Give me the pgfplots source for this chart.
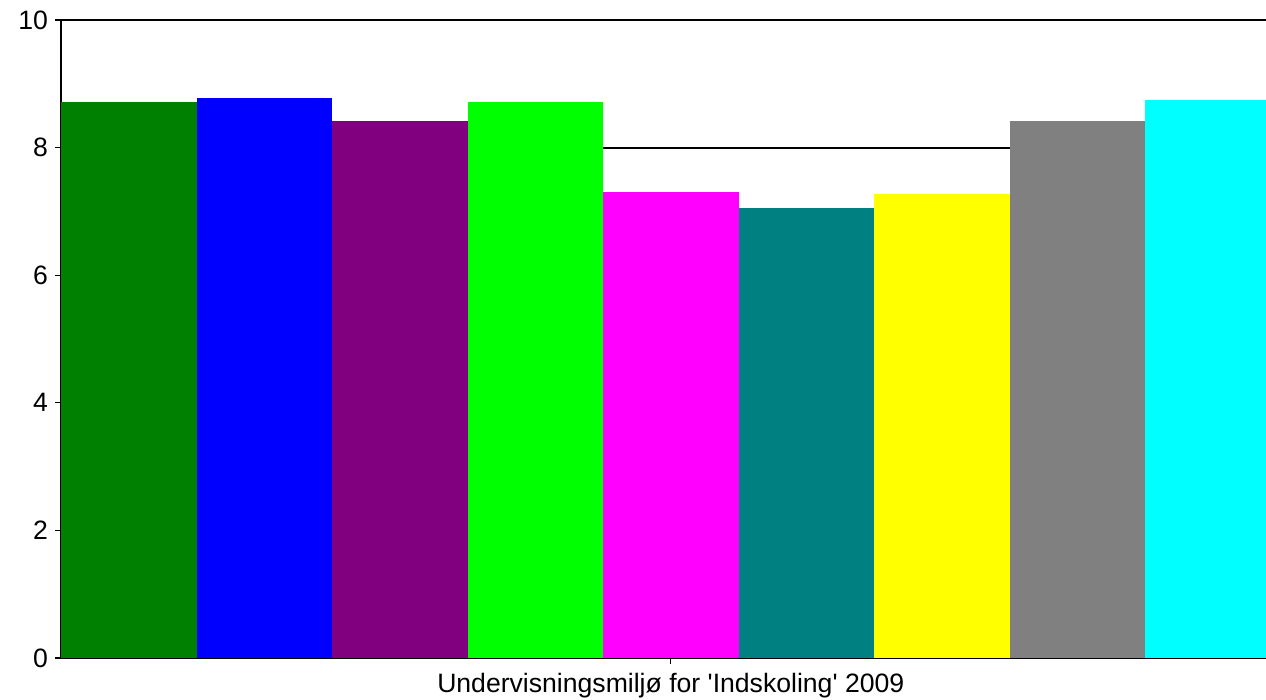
\documentclass[border=0pt]{standalone}
\usepackage{pgfplots}
\pgfplotsset{compat=1.18}
\usepackage{fontspec}
\setmainfont{Liberation Sans}
\definecolor{cGreen}{RGB}{0,128,0}
\definecolor{cBlue}{RGB}{0,0,255}
\definecolor{cPurple}{RGB}{128,0,128}
\definecolor{cLime}{RGB}{0,255,0}
\definecolor{cMagenta}{RGB}{255,0,255}
\definecolor{cTeal}{RGB}{0,128,128}
\definecolor{cYellow}{RGB}{255,255,0}
\definecolor{cGray}{RGB}{128,128,128}
\definecolor{cCyan}{RGB}{0,255,255}
\begin{document}
\begin{tikzpicture}
\begin{axis}[
  name=ax,
  scale only axis,
  width=602.5pt, height=319pt,
  xmin=0, xmax=8.893,
  ymin=0, ymax=10,
  axis x line*=bottom,
  axis y line*=left,
  axis line style={line width=1pt, -},
  ytick={0,2,4,6,8,10},
  xtick={4.5},
  xticklabels={Undervisningsmiljø for \textquotesingle Indskoling\textquotesingle{} 2009},
  tick align=outside,
  major tick length=3pt,
  tick style={black, line width=0.6pt},
  ymajorgrids,
  grid style={black, line width=1pt},
  tick label style={font=\fontsize{13.3}{15}\selectfont},
  /pgf/number format/assume math mode=true,
  xticklabel style={yshift=-1pt},
  ybar, bar width=1, bar shift=0pt,
  clip=true,
]
\addplot[fill=cGreen, draw=none] coordinates {(0.5,8.71)};
\addplot[fill=cBlue, draw=none] coordinates {(1.5,8.78)};
\addplot[fill=cPurple, draw=none] coordinates {(2.5,8.42)};
\addplot[fill=cLime, draw=none] coordinates {(3.5,8.71)};
\addplot[fill=cMagenta, draw=none] coordinates {(4.5,7.30)};
\addplot[fill=cTeal, draw=none] coordinates {(5.5,7.05)};
\addplot[fill=cYellow, draw=none] coordinates {(6.5,7.27)};
\addplot[fill=cGray, draw=none] coordinates {(7.5,8.42)};
\addplot[fill=cCyan, draw=none] coordinates {(8.5,8.75)};
\end{axis}
\pgfresetboundingbox
\path[use as bounding box] (ax.south west) ++(-30.5pt,-21pt) rectangle ([yshift=10pt]ax.north east);
\end{tikzpicture}
\end{document}
